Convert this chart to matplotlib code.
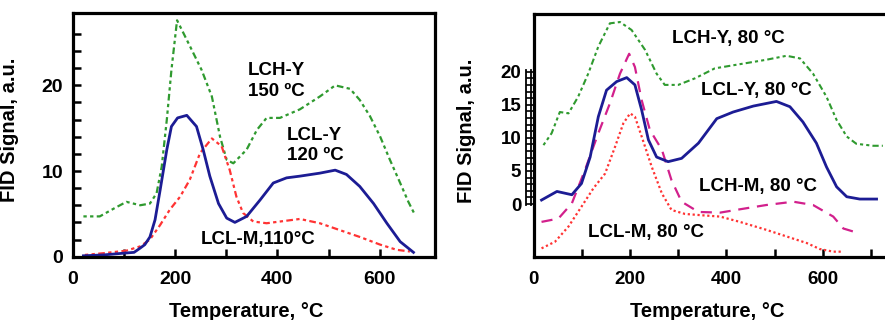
import numpy as np
import matplotlib
matplotlib.use('Agg')
import matplotlib.pyplot as plt
from matplotlib.transforms import blended_transform_factory, ScaledTranslation

plt.rcParams['font.family'] = ['Liberation Sans', 'DejaVu Sans']
plt.rcParams['font.weight'] = 'bold'

# ---- left panel data ----
lcly120_x = [21, 60, 99, 120, 132, 141, 151, 161, 171, 184, 193, 205, 223, 242, 255, 268, 285, 301, 317, 340, 366, 392, 418, 444, 483, 513, 535, 561, 588, 614, 640, 666]
lcly120_y = [0.1, 0.2, 0.4, 0.5, 1.0, 1.4, 2.3, 4.3, 7.8, 12.5, 15.2, 16.2, 16.5, 15.2, 12.5, 9.4, 6.2, 4.5, 4.0, 4.7, 6.6, 8.6, 9.2, 9.4, 9.75, 10.1, 9.6, 8.2, 6.2, 3.9, 1.75, 0.5]

lchy150_x = [21, 53, 80, 105, 132, 151, 164, 174, 184, 193, 204, 229, 252, 272, 288, 301, 314, 340, 360, 379, 405, 444, 483, 513, 542, 561, 581, 601, 620, 640, 656, 667]
lchy150_y = [4.7, 4.7, 5.6, 6.4, 6.0, 6.2, 7.4, 10.5, 16.0, 21.8, 27.6, 24.6, 21.8, 18.7, 14.0, 11.3, 10.9, 12.5, 14.8, 16.2, 16.2, 17.2, 18.7, 20.0, 19.6, 18.3, 16.4, 14.0, 11.3, 8.6, 6.4, 5.1]

lclm110_x = [24, 60, 105, 132, 151, 171, 190, 210, 229, 249, 272, 291, 307, 320, 333, 353, 379, 405, 444, 483, 522, 561, 601, 633, 659]
lclm110_y = [0.2, 0.4, 0.7, 1.2, 2.0, 3.7, 5.5, 7.0, 9.0, 12.1, 13.8, 12.9, 10.1, 7.0, 5.1, 4.1, 3.9, 4.1, 4.4, 3.9, 3.1, 2.3, 1.4, 0.8, 0.6]

# ---- right panel data ----
lchy80_x = [20, 37, 54, 72, 92, 113, 134, 158, 179, 203, 231, 255, 272, 300, 335, 376, 442, 483, 525, 553, 580, 608, 629, 650, 670, 705, 725]
lchy80_y = [8.9, 10.7, 13.9, 13.7, 16.2, 19.7, 23.8, 27.3, 27.5, 26.3, 23.3, 19.7, 18.0, 18.0, 19.0, 20.5, 21.3, 21.8, 22.4, 22.0, 19.7, 16.2, 12.7, 10.2, 9.1, 8.8, 8.8]

lcly80_x = [16, 48, 79, 99, 117, 134, 151, 172, 193, 210, 224, 238, 255, 279, 307, 342, 380, 414, 456, 504, 532, 559, 587, 608, 629, 650, 677, 712]
lcly80_y = [0.6, 1.9, 1.4, 3.1, 7.1, 13.2, 17.2, 18.5, 19.1, 18.0, 14.2, 9.7, 7.1, 6.4, 6.9, 9.2, 12.9, 13.9, 14.8, 15.5, 14.7, 12.4, 9.2, 5.6, 2.6, 1.1, 0.75, 0.75]

lchm80_x = [16, 51, 79, 106, 134, 158, 179, 198, 210, 224, 241, 266, 286, 307, 342, 387, 428, 483, 539, 580, 622, 643, 670]
lchm80_y = [-2.7, -2.2, 0.1, 5.1, 10.7, 15.2, 19.7, 22.7, 20.7, 15.7, 11.2, 8.2, 3.6, 0.35, -1.2, -1.3, -0.8, -0.15, 0.35, -0.15, -1.9, -3.7, -4.3]

lclm80_x = [16, 44, 72, 99, 124, 148, 169, 186, 200, 210, 224, 245, 266, 286, 314, 349, 387, 428, 483, 525, 567, 594, 622, 643]
lclm80_y = [-6.7, -5.7, -3.4, -0.4, 2.4, 4.6, 8.7, 12.2, 13.7, 13.2, 10.2, 5.6, 1.6, -0.9, -1.5, -1.7, -1.9, -2.7, -3.9, -4.9, -5.9, -6.8, -7.2, -7.2]

green = '#2f9a2f'
red = '#ff3333'
blue = '#1c1c94'
magenta = '#d2208c'
dashdotdot = (0, (1.5, 1.5, 1.5, 1.5, 3, 1.5))

fig = plt.figure(figsize=(8.85, 3.2), dpi=100)

# ---------------- left panel ----------------
ax1 = fig.add_axes([0.0821, 0.198, 0.4094, 0.760])
ax1.plot(lchy150_x, lchy150_y, color=green, lw=1.6, linestyle=dashdotdot)
ax1.plot(lclm110_x, lclm110_y, color=red, lw=1.6, linestyle=dashdotdot)
ax1.plot(lcly120_x, lcly120_y, color=blue, lw=2.0)
ax1.set_xlim(0, 708)
ax1.set_ylim(0, 28.4)
ax1.set_xticks([0, 200, 400, 600])
ax1.set_xticks([100, 300, 500], minor=True)
ax1.set_yticks([0, 10, 20])
ax1.set_yticks(np.arange(2, 27, 2), minor=True)
ax1.tick_params(which='both', direction='in', length=6, width=1.8, labelsize=14)
ax1.tick_params(axis='x', which='both', pad=10)
ax1.tick_params(axis='y', which='both', pad=7)
for s in ax1.spines.values():
    s.set_linewidth(2.3)
ax1.set_xlabel('Temperature, °C', fontsize=14.5, fontweight='bold')
ax1.xaxis.set_label_coords(0.48, -0.186)
ax1.set_ylabel('FID Signal, a.u.', fontsize=14.5, fontweight='bold')
ax1.yaxis.set_label_coords(-0.148, 0.52)
ax1.text(343, 21.7, 'LCH-Y', fontsize=13.5, fontweight='bold', va='center')
ax1.text(343, 19.3, '150 ºC', fontsize=13.5, fontweight='bold', va='center')
ax1.text(419, 14.1, 'LCL-Y', fontsize=13.5, fontweight='bold', va='center')
ax1.text(419, 11.8, '120 ºC', fontsize=13.5, fontweight='bold', va='center')
ax1.text(362, 2.0, 'LCL-M,110°C', fontsize=13.5, fontweight='bold', va='center', ha='center')

# ---------------- right panel ----------------
ax2 = fig.add_axes([0.6032, 0.197, 0.4025, 0.759])
ax2.plot(lchy80_x, lchy80_y, color=green, lw=1.5, linestyle=dashdotdot)
ax2.plot(lclm80_x, lclm80_y, color=red, lw=1.6, linestyle=(0, (1, 1.2)))
ax2.plot(lchm80_x, lchm80_y, color=magenta, lw=1.6, linestyle=(0, (5, 3.5)))
ax2.plot(lcly80_x, lcly80_y, color=blue, lw=2.0)
ax2.set_xlim(0, 740)
ax2.set_ylim(-8.0, 28.7)
ax2.spines['right'].set_visible(False)
for k in ['left', 'top', 'bottom']:
    ax2.spines[k].set_linewidth(2.3)
ax2.set_xticks([0, 200, 400, 600])
ax2.set_xticks([100, 300, 500, 700], minor=True)
ax2.tick_params(axis='x', which='both', direction='in', length=6, width=1.8, labelsize=13.5, pad=10)
ax2.set_yticks([0, 5, 10, 15, 20])
ax2.set_yticks(np.arange(0, 21, 1), minor=True)
ax2.tick_params(axis='y', which='both', direction='out', length=6, width=1.2, labelsize=13.5, pad=3)

# box ladder next to the y axis
tr = blended_transform_factory(ax2.transAxes, ax2.transData)
for off in [-8.0, -2.5]:
    t = tr + ScaledTranslation(off / 100.0, 0, fig.dpi_scale_trans)
    ax2.plot([0, 0], [-0.2, 20.2], transform=t, color='black', lw=1.3, clip_on=False)

ax2.set_xlabel('Temperature, °C', fontsize=14.5, fontweight='bold')
ax2.xaxis.set_label_coords(0.487, -0.186)
ax2.set_ylabel('FID Signal, a.u.', fontsize=14.5, fontweight='bold')
ax2.yaxis.set_label_coords(-0.162, 0.52)
ax2.text(286, 25.0, 'LCH-Y, 80 °C', fontsize=13.5, fontweight='bold', va='center')
ax2.text(348, 17.2, 'LCL-Y, 80 °C', fontsize=13.5, fontweight='bold', va='center')
ax2.text(344, 2.7, 'LCH-M, 80 °C', fontsize=13.5, fontweight='bold', va='center')
ax2.text(113, -4.3, 'LCL-M, 80 °C', fontsize=13.5, fontweight='bold', va='center')

fig.savefig('out.png', dpi=100)
